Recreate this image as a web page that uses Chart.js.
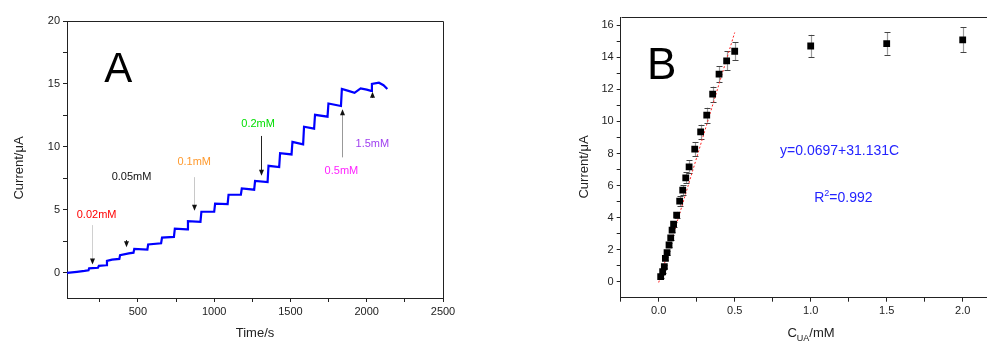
<!DOCTYPE html>
<html><head><meta charset="utf-8">
<script src="https://cdn.jsdelivr.net/npm/chart.js@4/dist/chart.umd.min.js"></script>
<style>
html,body{margin:0;padding:0;background:#fff;overflow:hidden;width:987px;height:342px;position:relative}
#wa{position:absolute;left:0;top:0;width:460px;height:342px}
#wb{position:absolute;left:520px;top:0;width:500px;height:342px}
</style></head><body>
<div id="wa"><canvas id="ca"></canvas></div>
<div id="wb"><canvas id="cb"></canvas></div>
<script>
// ---- Panel A data: amperometric trace ----
const timeA = [35, 100, 150, 176, 180, 238, 244, 292, 297, 330, 378, 383, 440, 471, 476, 562, 567, 652, 658, 736, 742, 822, 828, 910, 916, 1000, 1006, 1088, 1094, 1175, 1181, 1262, 1268, 1350, 1356, 1426, 1432, 1507, 1513, 1583, 1589, 1655, 1661, 1743, 1749, 1831, 1837, 1880, 1920, 1960, 2000, 2028, 2034, 2080, 2110, 2135];
const currentA = [0.0, 0.08, 0.15, 0.2, 0.35, 0.4, 0.55, 0.6, 0.95, 1.05, 1.1, 1.4, 1.55, 1.6, 1.9, 1.85, 2.25, 2.35, 2.8, 2.85, 3.5, 3.45, 4.1, 4.05, 4.85, 4.85, 5.5, 5.45, 6.2, 6.2, 6.7, 6.6, 7.3, 7.2, 8.5, 8.4, 9.5, 9.4, 10.4, 10.2, 11.6, 11.45, 12.55, 12.4, 13.45, 13.25, 14.6, 14.45, 14.3, 14.65, 14.55, 14.45, 15.0, 15.1, 14.9, 14.6];
const xTickValuesA = [250, 500, 750, 1000, 1250, 1500, 1750, 2000, 2250, 2500];
const xTicksA = [500, 1000, 1500, 2000, 2500];
const yTickValuesA = [0, 2.5, 5, 7.5, 10, 12.5, 15, 17.5, 20];
const yTicksA = [0, 5, 10, 15, 20];

// ---- Panel B data: calibration ----
const concB = [0.013, 0.026, 0.037, 0.044, 0.055, 0.068, 0.079, 0.088, 0.098, 0.118, 0.138, 0.158, 0.178, 0.2, 0.237, 0.276, 0.316, 0.355, 0.397, 0.447, 0.5, 1.0, 1.5, 2.0];
const currentB = [0.31, 0.62, 0.94, 1.45, 1.81, 2.29, 2.74, 3.22, 3.59, 4.16, 5.03, 5.71, 6.48, 7.17, 8.27, 9.35, 10.39, 11.70, 12.95, 13.78, 14.38, 14.71, 14.86, 15.09];
const errorB = [0.1, 0.1, 0.1, 0.1, 0.12, 0.12, 0.15, 0.15, 0.15, 0.2, 0.3, 0.3, 0.35, 0.4, 0.45, 0.45, 0.47, 0.48, 0.5, 0.6, 0.56, 0.7, 0.7, 0.78];
const fitX = [0, 0.5];
const fitY = [-0.05, 15.55];
const xTickValuesB = [-0.25, 0, 0.25, 0.5, 0.75, 1.0, 1.25, 1.5, 1.75, 2.0, 2.25];
const xTicksB = [0, 0.5, 1.0, 1.5, 2.0];
const yTickValuesB = [0,1,2,3,4,5,6,7,8,9,10,11,12,13,14,15,16];
const yTicksB = [0, 2, 4, 6, 8, 10, 12, 14, 16];

const FONT = "'Liberation Sans', Arial, sans-serif";
const INK = '#222';

function axisCommon(){
  return {
    grid:{drawOnChartArea:false, drawTicks:true, tickLength:4, color:INK, tickColor:INK},
    border:{display:true, color:INK, width:1}
  };
}
function fixedTicks(vals){ return s => { s.ticks = vals.map(v=>({value:v})); }; }

// annotations for A (data coordinates)
const labelsA = [
  {text:'A', t:371, i:16.1, color:'#000', size:42},
  {text:'0.02mM', t:229, i:4.59, color:'#ff0000', size:11},
  {text:'0.05mM', t:458, i:7.63, color:'#111', size:11},
  {text:'0.1mM', t:869, i:8.83, color:'#ff9a2e', size:11},
  {text:'0.2mM', t:1288, i:11.79, color:'#00dd00', size:11},
  {text:'0.5mM', t:1834, i:8.11, color:'#ff22ff', size:11},
  {text:'1.5mM', t:2037, i:10.23, color:'#a040f0', size:11}
];
const arrowsA = [
  {t:201, from:3.79, to:0.67, stem:'#d0d0d0'},
  {t:421, from:2.6, to:2.04, stem:'#222'},
  {t:869, from:7.6, to:4.93, stem:'#c8c8c8'},
  {t:1310, from:10.87, to:7.71, stem:'#222'},
  {t:1841, from:9.17, to:12.99, stem:'#999'},
  {t:2035, from:13.9, to:14.39, stem:'#222'}
];

function drawFrame(chart){
  const {ctx, chartArea:a} = chart;
  ctx.save(); ctx.strokeStyle = INK; ctx.lineWidth = 1;
  ctx.beginPath();
  ctx.moveTo(Math.round(a.left)+0.5, Math.round(a.top)+0.5);
  ctx.lineTo(Math.round(a.right)+0.5, Math.round(a.top)+0.5);
  ctx.lineTo(Math.round(a.right)+0.5, Math.round(a.bottom)+0.5);
  ctx.stroke(); ctx.restore();
}

const plugA = {
  id:'plugA',
  afterDraw(chart){
    const {ctx, scales:{x, y}} = chart;
    drawFrame(chart);
    ctx.save();
    arrowsA.forEach(a=>{
      const px = Math.round(x.getPixelForValue(a.t))+0.5;
      const y1 = y.getPixelForValue(a.from), y2 = y.getPixelForValue(a.to);
      const dir = y2 > y1 ? 1 : -1;
      ctx.strokeStyle = a.stem; ctx.lineWidth = 1;
      ctx.beginPath(); ctx.moveTo(px, y1); ctx.lineTo(px, y2 - dir*4); ctx.stroke();
      ctx.fillStyle = '#111';
      ctx.beginPath(); ctx.moveTo(px, y2); ctx.lineTo(px-2.5, y2 - dir*6); ctx.lineTo(px+2.5, y2 - dir*6); ctx.closePath(); ctx.fill();
    });
    ctx.textAlign = 'center'; ctx.textBaseline = 'middle';
    labelsA.forEach(l=>{
      ctx.fillStyle = l.color; ctx.font = l.size + 'px ' + FONT;
      ctx.fillText(l.text, x.getPixelForValue(l.t), y.getPixelForValue(l.i));
    });
    ctx.fillStyle = INK; ctx.font = '13px ' + FONT;
    ctx.fillText('Time/s', 255, 333);
    ctx.translate(19, 168); ctx.rotate(-Math.PI/2);
    ctx.fillText('Current/\u03bcA', 0, 0);
    ctx.restore();
  }
};

new Chart(document.getElementById('ca'), {
  type:'line',
  data:{datasets:[{
    data: timeA.map((t,k)=>({x:t, y:currentA[k]})),
    borderColor:'#0000ff', borderWidth:2.2, pointRadius:0, tension:0, fill:false
  }]},
  options:{
    responsive:true, maintainAspectRatio:false, animation:false, devicePixelRatio:1,
    layout:{padding:{left:0, right:17, top:21, bottom:0}},
    plugins:{legend:{display:false}, tooltip:{enabled:false}},
    scales:{
      x:Object.assign(axisCommon(), {type:'linear', min:35, max:2500,
        afterBuildTicks: fixedTicks(xTickValuesA),
        ticks:{autoSkip:false, maxRotation:0, padding:3, color:INK, font:{family:FONT, size:11},
          callback:v=> xTicksA.includes(v) ? String(v) : ''},
        afterFit:s=>{s.height = 44;}}),
      y:Object.assign(axisCommon(), {type:'linear', min:-2, max:20,
        afterBuildTicks: fixedTicks(yTickValuesA),
        ticks:{autoSkip:false, padding:3, color:INK, font:{family:FONT, size:11},
          callback:v=> yTicksA.includes(v) ? String(v) : ''},
        afterFit:s=>{s.width = 67;}})
    }
  },
  plugins:[plugA]
});

// ---- Panel B ----
const plugB = {
  id:'plugB',
  beforeDatasetsDraw(chart){
    const {ctx, scales:{x, y}} = chart;
    ctx.save();
    concB.forEach((c,k)=>{
      const px = Math.round(x.getPixelForValue(c))+0.5;
      const yt = y.getPixelForValue(currentB[k]+errorB[k]);
      const yb = y.getPixelForValue(currentB[k]-errorB[k]);
      ctx.strokeStyle = '#9a9a9a'; ctx.lineWidth = 1.2;
      ctx.beginPath(); ctx.moveTo(px, yt); ctx.lineTo(px, yb); ctx.stroke();
      ctx.strokeStyle = '#444'; ctx.lineWidth = 1;
      ctx.beginPath();
      ctx.moveTo(px-3, Math.round(yt)+0.5); ctx.lineTo(px+3, Math.round(yt)+0.5);
      ctx.moveTo(px-3, Math.round(yb)+0.5); ctx.lineTo(px+3, Math.round(yb)+0.5);
      ctx.stroke();
    });
    ctx.restore();
  },
  afterDraw(chart){
    const {ctx, scales:{x, y}} = chart;
    drawFrame(chart);
    ctx.save();
    ctx.textBaseline = 'middle';
    ctx.fillStyle = '#000'; ctx.font = '44px ' + FONT; ctx.textAlign = 'center';
    ctx.fillText('B', x.getPixelForValue(0.02), y.getPixelForValue(13.4));
    ctx.fillStyle = '#2424ff'; ctx.font = '14px ' + FONT;
    ctx.fillText('y=0.0697+31.131C', x.getPixelForValue(1.19), y.getPixelForValue(8.15));
    const rx = x.getPixelForValue(1.215), ry = y.getPixelForValue(5.2);
    ctx.textAlign = 'left';
    const wR = ctx.measureText('R').width;
    ctx.font = '9px ' + FONT; const w2 = ctx.measureText('2').width;
    ctx.font = '14px ' + FONT; const wRest = ctx.measureText('=0.992').width;
    let sx = rx - (wR + w2 + wRest)/2;
    ctx.fillText('R', sx, ry); sx += wR;
    ctx.font = '9px ' + FONT; ctx.fillText('2', sx, ry - 5); sx += w2;
    ctx.font = '14px ' + FONT; ctx.fillText('=0.992', sx, ry);
    ctx.fillStyle = INK; ctx.font = '13px ' + FONT;
    const wC = ctx.measureText('C').width, wM = ctx.measureText('/mM').width;
    ctx.font = '9px ' + FONT; const wU = ctx.measureText('UA').width;
    let tx = 291 - (wC + wU + wM)/2;
    ctx.font = '13px ' + FONT; ctx.fillText('C', tx, 333); tx += wC;
    ctx.font = '9px ' + FONT; ctx.fillText('UA', tx, 339); tx += wU;
    ctx.font = '13px ' + FONT; ctx.fillText('/mM', tx, 333);
    ctx.textAlign = 'center';
    ctx.translate(64, 167); ctx.rotate(-Math.PI/2);
    ctx.fillText('Current/\u03bcA', 0, 0);
    ctx.restore();
  }
};

new Chart(document.getElementById('cb'), {
  type:'scatter',
  data:{datasets:[
    {type:'line', data: fitX.map((v,k)=>({x:v, y:fitY[k]})), borderColor:'#ff2020', borderWidth:1, borderDash:[2,2], pointRadius:0, fill:false, order:2},
    {type:'scatter', data: concB.map((c,k)=>({x:c, y:currentB[k]})), pointStyle:'rect', pointRadius:4.8, backgroundColor:'#000', borderColor:'#000', borderWidth:0, order:1}
  ]},
  options:{
    responsive:true, maintainAspectRatio:false, animation:false, devicePixelRatio:1,
    layout:{padding:{left:0, right:19.3, top:17.3, bottom:0}},
    plugins:{legend:{display:false}, tooltip:{enabled:false}},
    scales:{
      x:Object.assign(axisCommon(), {type:'linear', min:-0.25, max:2.25,
        afterBuildTicks: fixedTicks(xTickValuesB),
        ticks:{autoSkip:false, maxRotation:0, padding:3, color:INK, font:{family:FONT, size:11},
          callback:v=> xTicksB.includes(v) ? v.toFixed(1) : ''},
        afterFit:s=>{s.height = 44.3;}}),
      y:Object.assign(axisCommon(), {type:'linear', min:-1, max:16.5,
        afterBuildTicks: fixedTicks(yTickValuesB),
        ticks:{autoSkip:false, padding:3, color:INK, font:{family:FONT, size:11},
          callback:v=> yTicksB.includes(v) ? String(v) : ''},
        afterFit:s=>{s.width = 100.7;}})
    }
  },
  plugins:[plugB]
});
</script>
</body></html>
